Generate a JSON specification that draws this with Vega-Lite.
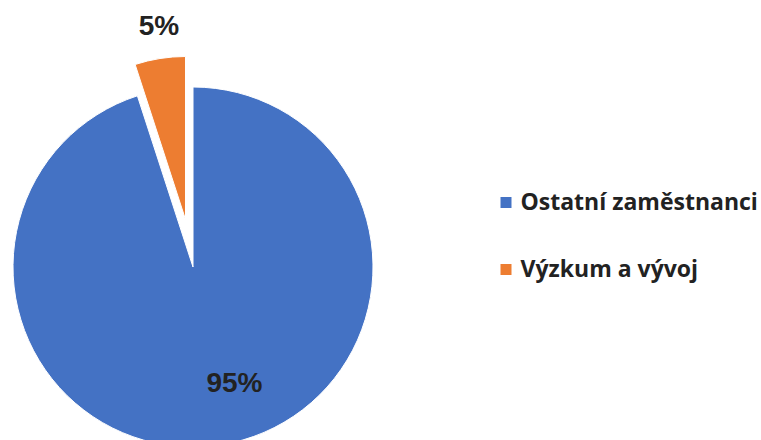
{
  "$schema": "https://vega.github.io/schema/vega-lite/v6.json",
  "width": 386,
  "height": 534,
  "autosize": {"type": "none"},
  "padding": {"left": 0, "top": 0, "right": 375, "bottom": -94},
  "background": "white",
  "config": {"view": {"stroke": null}},
  "data": {
    "values": [
      {"kategorie": "Ostatní zaměstnanci", "podil": 95, "popisek": "95%"},
      {"kategorie": "Výzkum a vývoj", "podil": 5, "popisek": "5%"}
    ]
  },
  "encoding": {
    "theta": {"field": "podil", "type": "quantitative", "stack": true},
    "order": {"field": "kategorie", "type": "nominal", "sort": "ascending"},
    "color": {
      "field": "kategorie",
      "type": "nominal",
      "scale": {"domain": ["Ostatní zaměstnanci", "Výzkum a vývoj"], "range": ["#4472C4", "#ED7D31"]},
      "legend": {
        "orient": "none",
        "legendX": 494.5,
        "legendY": 191,
        "title": null,
        "padding": 0,
        "symbolType": "square",
        "symbolSize": 121,
        "symbolStrokeWidth": 0,
        "labelFont": "Open Sans",
        "labelFontWeight": "bold",
        "labelFontSize": 23,
        "labelColor": "#222222",
        "labelOffset": 3,
        "labelLimit": 400,
        "rowPadding": 43
      }
    }
  },
  "layer": [
    {
      "mark": {"type": "arc", "outerRadius": 180, "stroke": "white", "strokeWidth": 1},
      "encoding": {
        "opacity": {"condition": {"test": "datum.kategorie === 'Výzkum a vývoj'", "value": 0}, "value": 1}
      }
    },
    {
      "mark": {"type": "arc", "outerRadius": 163, "stroke": "white", "strokeWidth": 1, "xOffset": -7.5, "yOffset": -47.5},
      "encoding": {
        "opacity": {"condition": {"test": "datum.kategorie === 'Ostatní zaměstnanci'", "value": 0}, "value": 1}
      }
    },
    {
      "mark": {"type": "text", "radius": 118, "dx": 23, "font": "Liberation Sans", "fontWeight": "bold", "fontSize": 28, "color": "#222222"},
      "encoding": {
        "text": {"field": "popisek"},
        "color": {"value": "#222222"},
        "opacity": {"condition": {"test": "datum.kategorie === 'Výzkum a vývoj'", "value": 0}, "value": 1}
      }
    },
    {
      "mark": {"type": "text", "radius": 243, "dx": 4, "font": "Liberation Sans", "fontWeight": "bold", "fontSize": 28, "color": "#222222"},
      "encoding": {
        "text": {"field": "popisek"},
        "color": {"value": "#222222"},
        "opacity": {"condition": {"test": "datum.kategorie === 'Ostatní zaměstnanci'", "value": 0}, "value": 1}
      }
    }
  ]
}
